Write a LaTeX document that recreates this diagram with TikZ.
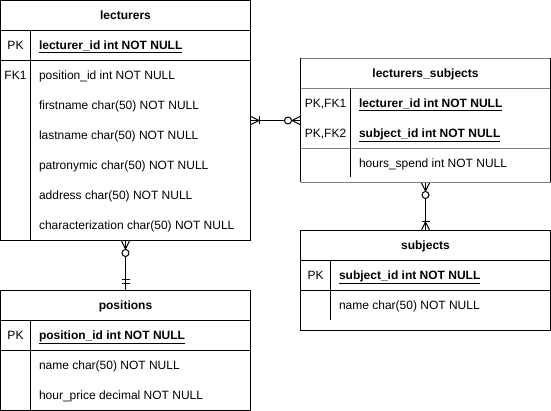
\documentclass[tikz,border=0pt]{standalone}
\usepackage{fontspec}
\setmainfont{Liberation Sans}
\usetikzlibrary{calc}
\definecolor{rulegray}{HTML}{808080}
\tikzset{%
        ertable/.style = {draw = black, line width = 1pt, inner sep = 0pt, minimum width = 250pt},
        erframe/.style = {inner sep = 0pt, minimum width = 250pt},
        tabletitle/.style = {anchor = base, inner sep = 0pt, yshift = -4.3pt, font = \fontsize{12}{14}\selectfont\bfseries},
        keycell/.style = {anchor = base, inner sep = 0pt, yshift = -4.3pt, font = \fontsize{12}{14}\selectfont},
        fieldcell/.style = {anchor = base west, inner sep = 0pt, yshift = -4.3pt, font = \fontsize{12}{14}\selectfont},
        grayrule/.style = {draw = rulegray},
        many/.pic = {\draw (0,-4) -- (8,0) -- (0,4);},
        zeromany/.pic = {\draw (0,-4) -- (8,0) -- (0,4);
                \draw[fill = white] (12,0) circle (3.5);},
        onemany/.pic = {\draw (0,-4) -- (8,0) -- (0,4);
                \draw (8,-4) -- (8,4);},
        mandone/.pic = {\draw (6,-4) -- (6,4);
                \draw (10,-4) -- (10,4);}
}

\begin{document}
\begin{tikzpicture}[x = 1pt, y = -1pt, line width = 1pt]
        \useasboundingbox (-0.5,-0.5) rectangle (550.5,410.5);

        % lecturers
        \node[ertable, minimum height = 240pt] (lecturers) at (125,120) {};
        \draw (0,30) -- (250,30) (0,60) -- (250,60) (30,30) -- (30,240);
        \node[tabletitle] (lecturers title) at (125,15) {lecturers};
        \node[keycell] (lecturers pk) at (15,45) {PK};
        \node[fieldcell] (lecturers id) at (38,45) {\underline{\textbf{lecturer\_id int NOT NULL}}};
        \node[keycell] (lecturers fk1) at (15,75) {FK1};
        \foreach \y/\txt in {75/position\_id int NOT NULL,
                105/firstname char(50) NOT NULL,
                135/lastname char(50) NOT NULL,
                165/patronymic char(50) NOT NULL,
                195/address char(50) NOT NULL,
                225/characterization char(50) NOT NULL}
                \node[fieldcell] (lecturers row \y) at (38,\y) {\txt};

        % positions
        \node[ertable, minimum height = 120pt] (positions) at (125,350) {};
        \draw (0,320) -- (250,320) (0,350) -- (250,350) (30,320) -- (30,410);
        \node[tabletitle] (positions title) at (125,305) {positions};
        \node[keycell] (positions pk) at (15,335) {PK};
        \node[fieldcell] (positions id) at (38,335) {\underline{\textbf{position\_id int NOT NULL}}};
        \node[fieldcell] (positions name) at (38,365) {name char(50) NOT NULL};
        \node[fieldcell] (positions price) at (38,395) {hour\_price decimal NOT NULL};

        % lecturers_subjects
        \node[erframe, minimum height = 124pt] (lecsub) at (425,120) {};
        \draw[grayrule] (300,58) -- (550,58) (300,88) -- (550,88)
                (300,148) -- (550,148) (300,182) -- (550,182);
        \draw (300,58) -- (300,182) (550,58) -- (550,182) (350,88) -- (350,177);
        \node[tabletitle] (lecsub title) at (425,73) {lecturers\_subjects};
        \node[keycell] (lecsub fk1) at (325,103) {PK,FK1};
        \node[fieldcell] (lecsub lecturer) at (358,103) {\underline{\textbf{lecturer\_id int NOT NULL}}};
        \node[keycell] (lecsub fk2) at (325,133) {PK,FK2};
        \node[fieldcell] (lecsub subject) at (358,133) {\underline{\textbf{subject\_id int NOT NULL}}};
        \node[fieldcell] (lecsub hours) at (358,163) {hours\_spend int NOT NULL};

        % subjects
        \node[ertable, minimum height = 100pt] (subjects) at (425,280) {};
        \draw (300,260) -- (550,260) (300,290) -- (550,290) (330,260) -- (330,320);
        \node[tabletitle] (subjects title) at (425,245) {subjects};
        \node[keycell] (subjects pk) at (315,275) {PK};
        \node[fieldcell] (subjects id) at (338,275) {\underline{\textbf{subject\_id int NOT NULL}}};
        \node[fieldcell] (subjects name) at (338,305) {name char(50) NOT NULL};

        % relations
        \draw (lecturers.east) -- (lecsub.west);
        \draw (lecturers.south) -- (positions.north);
        \draw (lecsub.south) -- (subjects.north);
        \pic at (lecturers.east) {onemany};
        \pic[rotate = 180] at (lecsub.west) {zeromany};
        \pic[rotate = -90] at (lecturers.south) {zeromany};
        \pic[rotate = 90] at (positions.north) {mandone};
        \pic[rotate = -90] at (lecsub.south) {zeromany};
        \pic[rotate = 90] at (subjects.north) {onemany};
\end{tikzpicture}
\end{document}
